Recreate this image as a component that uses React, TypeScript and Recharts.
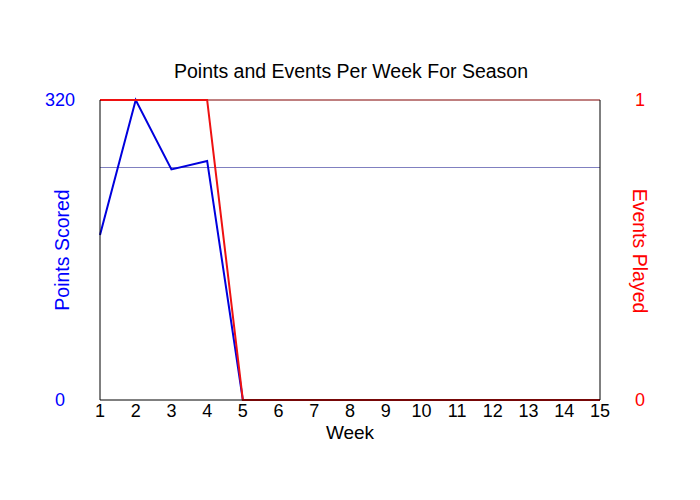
import { LineChart, Line, XAxis, YAxis, ReferenceLine } from 'recharts';

const weeks = [1, 2, 3, 4, 5, 6, 7, 8, 9, 10, 11, 12, 13, 14, 15];
const points = [176, 320, 246, 255, 0, 0, 0, 0, 0, 0, 0, 0, 0, 0, 0];
const events = [1, 1, 1, 1, 0, 0, 0, 0, 0, 0, 0, 0, 0, 0, 0];
const pointTicks = [0, 320];
const eventTicks = [0, 1];
const gridValue = 248;

const font = 'Arial, "Liberation Sans", sans-serif';

const data = weeks.map((w, i) => ({ week: w, points: points[i], events: events[i] }));

const LeftTick = (props: any) => {
  const { y, payload } = props;
  return (
    <text x={60} y={y} dy={6} textAnchor="middle" fill="#0000ff" fontSize={18} fontFamily={font}>
      {payload.value}
    </text>
  );
};

const RightTick = (props: any) => {
  const { y, payload } = props;
  return (
    <text x={640} y={y} dy={6} textAnchor="middle" fill="#ff0000" fontSize={18} fontFamily={font}>
      {payload.value}
    </text>
  );
};

const BottomTick = (props: any) => {
  const { x, payload } = props;
  return (
    <text x={x} y={411} dy={6} textAnchor="middle" fill="#000" fontSize={18} fontFamily={font}>
      {payload.value}
    </text>
  );
};

export default function App() {
  return (
    <div style={{ position: 'absolute', left: 0, top: 0, width: 700, height: 500, background: '#fff' }}>
      <LineChart width={700} height={500} data={data} margin={{ top: 100, right: 0, bottom: 0, left: 0 }}>
        <text x={351} y={71} dy={7} textAnchor="middle" fontSize={19.5} fontFamily={font} fill="#000">
          Points and Events Per Week For Season
        </text>
        <XAxis
          dataKey="week"
          type="number"
          domain={[1, 15]}
          ticks={weeks}
          height={100}
          stroke="#000"
          tickLine={false}
          tick={<BottomTick />}
          interval={0}
        />
        <YAxis
          yAxisId="left"
          orientation="left"
          domain={[0, 320]}
          ticks={pointTicks}
          width={100}
          stroke="#000"
          tickLine={false}
          tick={<LeftTick />}
        />
        <YAxis
          yAxisId="right"
          orientation="right"
          domain={[0, 1]}
          ticks={eventTicks}
          width={100}
          stroke="#000"
          tickLine={false}
          tick={<RightTick />}
        />
        <ReferenceLine yAxisId="left" y={gridValue} stroke="#8080c0" strokeWidth={1} />
        <ReferenceLine yAxisId="left" y={320} stroke="#800000" strokeWidth={1} />
        <Line
          yAxisId="left"
          type="linear"
          dataKey="points"
          stroke="#0000dd"
          strokeWidth={2}
          dot={false}
          isAnimationActive={false}
        />
        <Line
          yAxisId="right"
          type="linear"
          dataKey="events"
          stroke="#ee1111"
          strokeWidth={2}
          dot={false}
          isAnimationActive={false}
        />
        <text
          x={62}
          y={250}
          textAnchor="middle"
          dominantBaseline="central"
          transform="rotate(-90 62 250)"
          fontSize={19.5}
          fontFamily={font}
          fill="#0000ff"
        >
          Points Scored
        </text>
        <text
          x={640}
          y={251}
          textAnchor="middle"
          dominantBaseline="central"
          transform="rotate(90 640 251)"
          fontSize={19.5}
          fontFamily={font}
          fill="#ff0000"
        >
          Events Played
        </text>
        <text x={350} y={432} dy={7} textAnchor="middle" fontSize={19} fontFamily={font} fill="#000">
          Week
        </text>
      </LineChart>
    </div>
  );
}
